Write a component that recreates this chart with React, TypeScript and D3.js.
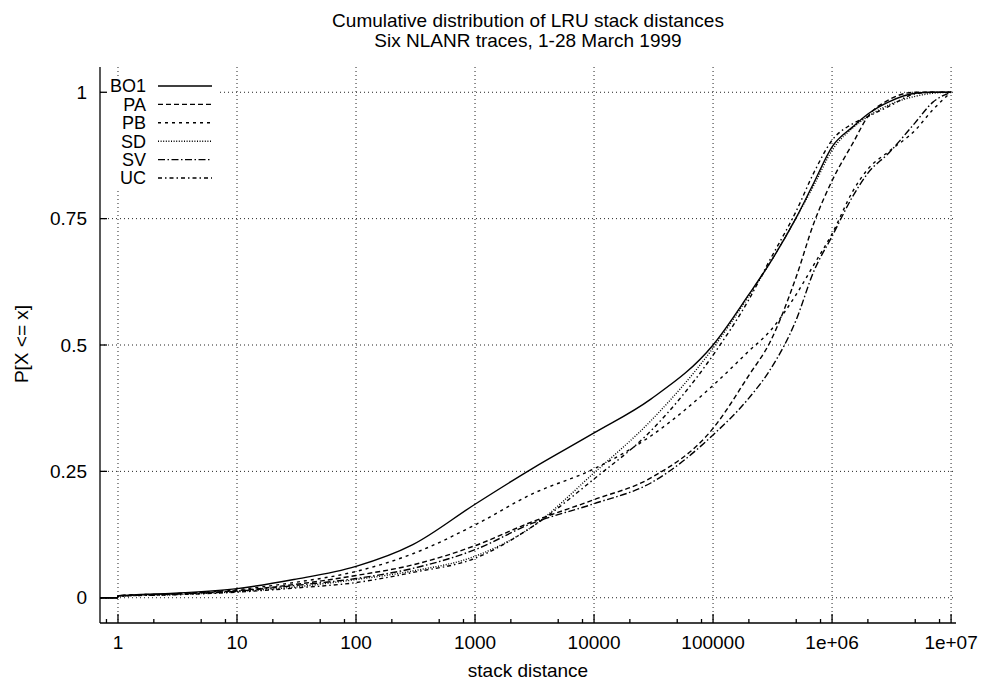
import React from "react";
import * as d3 from "d3";

// stack distance sample points (log axis)
const xs = [0.5, 0.99, 1, 3, 10, 30, 100, 300, 1000, 3000, 1e4, 3e4, 1e5, 2e5, 3e5, 5e5, 7e5, 1e6, 1.5e6, 2e6, 3e6, 5e6, 7e6, 1e7];

const BO1 = [0, 0, 0.004, 0.009, 0.018, 0.036, 0.062, 0.105, 0.185, 0.255, 0.326, 0.393, 0.5, 0.6, 0.662, 0.752, 0.82, 0.892, 0.932, 0.957, 0.981, 0.998, 1, 1];
const PA = [0, 0, 0.004, 0.008, 0.014, 0.026, 0.044, 0.065, 0.103, 0.15, 0.194, 0.237, 0.335, 0.44, 0.505, 0.635, 0.74, 0.825, 0.9, 0.952, 0.985, 1, 1, 1];
const PB = [0, 0, 0.004, 0.008, 0.016, 0.03, 0.052, 0.087, 0.144, 0.205, 0.255, 0.32, 0.42, 0.488, 0.527, 0.6, 0.658, 0.72, 0.805, 0.848, 0.883, 0.925, 0.965, 1];
const SD = [0, 0, 0.003, 0.006, 0.012, 0.021, 0.036, 0.053, 0.082, 0.14, 0.247, 0.35, 0.494, 0.597, 0.662, 0.752, 0.815, 0.885, 0.93, 0.952, 0.975, 0.992, 0.998, 1];
const SV = [0, 0, 0.003, 0.007, 0.013, 0.024, 0.038, 0.058, 0.095, 0.147, 0.186, 0.227, 0.322, 0.395, 0.45, 0.55, 0.645, 0.715, 0.795, 0.84, 0.88, 0.94, 0.98, 1];
const UC = [0, 0, 0.003, 0.006, 0.011, 0.019, 0.03, 0.05, 0.078, 0.14, 0.235, 0.33, 0.48, 0.59, 0.668, 0.765, 0.84, 0.905, 0.938, 0.952, 0.972, 0.997, 1, 1];

const names = ["BO1", "PA", "PB", "SD", "SV", "UC"];
const values = [BO1, PA, PB, SD, SV, UC];
const dashes = ["none", "5,3", "3,4", "1,1.6", "7,2.5,1.5,2.5", "4,3,1.5,3"];

const xMajor = [1, 10, 100, 1000, 1e4, 1e5, 1e6, 1e7];
const xLabels = ["1", "10", "100", "1000", "10000", "100000", "1e+06", "1e+07"];
const xMinorMult = [2, 5, 8];
const yTicks = [0, 0.25, 0.5, 0.75, 1];
const yLabels = ["0", "0.25", "0.5", "0.75", "1"];

const W = 983, H = 684;
const font = "'Liberation Sans', Arial, Helvetica, sans-serif";

export default function App() {
  const x = d3.scaleLog().domain([0.706, 1.1e7]).range([100, 956]);
  const y = d3.scaleLinear().domain([-0.05, 1.05]).range([623, 67]);
  const [x0, x1] = x.range();
  const [y0, y1] = y.range();

  const line = d3.line<number>()
    .x((_, i) => x(xs[i]))
    .y(d => y(d))
    .curve(d3.curveMonotoneX);

  const minor: number[] = [];
  for (let k = -1; k <= 6; k++) {
    xMinorMult.forEach(m => {
      const v = m * Math.pow(10, k);
      if (v >= x.domain()[0] && v <= x.domain()[1]) minor.push(v);
    });
  }

  const legY = (i: number) => 86 + i * 18.4;

  return (
    <svg width={W} height={H} style={{ position: "absolute", left: 0, top: 0, background: "#fff" }}
      fontFamily={font} fontSize={19}>
      <defs>
        <clipPath id="plot">
          <rect x={x0} y={y1} width={x1 - x0} height={y0 - y1} />
        </clipPath>
      </defs>
      <rect width={W} height={H} fill="#fff" />

      {/* grid */}
      <g stroke="#222" strokeWidth={1} strokeDasharray="1,3">
        {xMajor.map(v => (
          <line key={"gx" + v} x1={x(v)} x2={x(v)} y1={y1} y2={y0} />
        ))}
        {yTicks.map(v => (
          <line key={"gy" + v} x1={x0} x2={x1} y1={y(v)} y2={y(v)} />
        ))}
      </g>

      {/* legend background */}
      <rect x={102} y={77} width={118} height={111} fill="#fff" />

      {/* curves */}
      <g clipPath="url(#plot)" fill="none" stroke="#000" strokeWidth={1.4}>
        {values.map((vals, i) => (
          <path key={names[i]} d={line(vals) || ""} strokeDasharray={dashes[i]} />
        ))}
      </g>

      {/* axes */}
      <g stroke="#000" strokeWidth={1.3}>
        <line x1={x0} x2={x0} y1={y1} y2={y0} />
        <line x1={x0} x2={x1} y1={y0} y2={y0} />
        {xMajor.map(v => (
          <line key={"tx" + v} x1={x(v)} x2={x(v)} y1={y0} y2={y0 - 9} />
        ))}
        {minor.map(v => (
          <line key={"mx" + v} x1={x(v)} x2={x(v)} y1={y0} y2={y0 - 4} />
        ))}
        {yTicks.map(v => (
          <line key={"ty" + v} x1={x0} x2={x0 + 7} y1={y(v)} y2={y(v)} />
        ))}
      </g>

      {/* tick labels */}
      <g fill="#000">
        {xMajor.map((v, i) => (
          <text key={"lx" + v} x={x(v)} y={649} textAnchor="middle">{xLabels[i]}</text>
        ))}
        {yTicks.map((v, i) => (
          <text key={"ly" + v} x={87} y={y(v)} dy="0.35em" textAnchor="end">{yLabels[i]}</text>
        ))}
        <text x={(x0 + x1) / 2} y={677} textAnchor="middle">stack distance</text>
        <text transform="translate(28,344) rotate(-90)" textAnchor="middle">P[X &lt;= x]</text>
        <text x={(x0 + x1) / 2} y={27} textAnchor="middle">Cumulative distribution of LRU stack distances</text>
        <text x={(x0 + x1) / 2} y={47} textAnchor="middle">Six NLANR traces, 1-28 March 1999</text>
      </g>

      {/* legend */}
      <g fontSize={18}>
        {names.map((n, i) => (
          <g key={"leg" + n}>
            <text x={146} y={legY(i)} dy="0.35em" textAnchor="end">{n}</text>
            <line x1={158} x2={212} y1={legY(i)} y2={legY(i)} stroke="#000" strokeWidth={1.4}
              strokeDasharray={dashes[i]} />
          </g>
        ))}
      </g>
    </svg>
  );
}
